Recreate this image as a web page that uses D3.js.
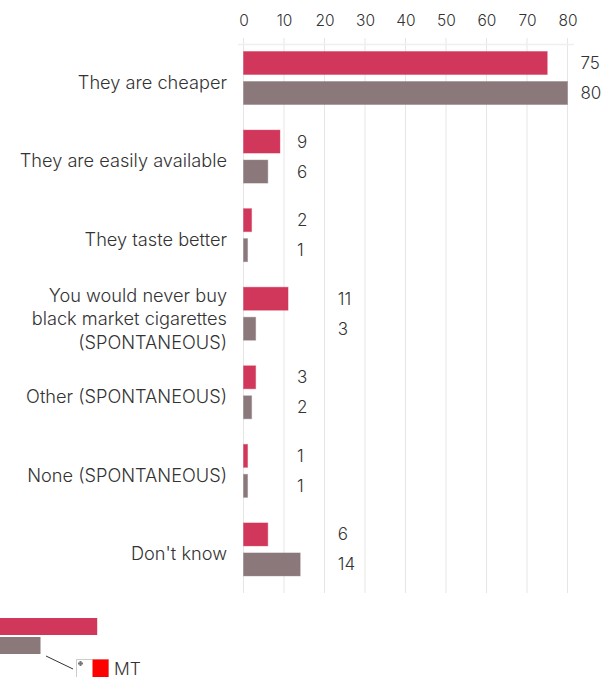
<!DOCTYPE html>
<html>
<head>
<meta charset="utf-8">
<script src="https://cdnjs.cloudflare.com/ajax/libs/d3/7.8.5/d3.min.js"></script>
<style>
  html, body { margin: 0; padding: 0; background: #fff; }
  svg { display: block; }
  text { font-family: Inter, sans-serif; font-weight: 300; fill: #333; }
</style>
</head>
<body>
<svg id="chart" width="601" height="677"></svg>
<script>
// Reasons for buying cheaper cigarettes, two survey waves per answer.
const categories = [
  ["They are cheaper"],
  ["They are easily available"],
  ["They taste better"],
  ["You would never buy", "black market cigarettes", "(SPONTANEOUS)"],
  ["Other (SPONTANEOUS)"],
  ["None (SPONTANEOUS)"],
  ["Don't know"]
];
const seriesCurrent = [75, 9, 2, 11, 3, 1, 6];
const seriesPrevious = [80, 6, 1, 3, 2, 1, 14];
const tickValues = [0, 10, 20, 30, 40, 50, 60, 70, 80];
const keyValues = [24, 10];
const keyLabel = "MT";

const colors = { current: "#d1365b", previous: "#8a787b", grid: "#e6e6e6" };

const svg = d3.select("#chart");
const plotTop = 44, plotBottom = 594;

const x = d3.scaleLinear().domain([0, 80]).range([243.5, 567.5]);
const y = d3.scaleBand().domain(d3.range(categories.length)).range([plotTop, plotBottom]);
const barHeight = 23, barInset = 7.5, barGap = 30;

// Value labels sit in three columns, placed along the value scale.
const labelColumn = [83.2, 13.2, 13.2, 23.3, 13.2, 13.2, 23.3];

// Gridlines and top axis
const axis = d3.axisTop(x).tickValues(tickValues).tickSize(0).tickPadding(12);
const axisG = svg.append("g").attr("transform", `translate(0,${plotTop - 12})`).call(axis);
axisG.select(".domain").remove();
axisG.selectAll("text").style("font-size", "15.5px").style("font-family", "Inter, sans-serif").attr("fill", "#333").attr("dy", "0.32em").attr("y", -11);

svg.append("g").selectAll("line").data(tickValues).join("line")
  .attr("x1", d => x(d)).attr("x2", d => x(d))
  .attr("y1", 38).attr("y2", 593)
  .attr("stroke", colors.grid).attr("stroke-width", 1);
svg.append("line")
  .attr("x1", 238).attr("x2", 574).attr("y1", 44.5).attr("y2", 44.5)
  .attr("stroke", "#efefef").attr("stroke-width", 1.5);

// Bars
function drawBars(values, color, offset) {
  svg.append("g").selectAll("rect").data(values).join("rect")
    .attr("x", x(0))
    .attr("y", (d, i) => y(i) + offset)
    .attr("width", d => x(d) - x(0))
    .attr("height", barHeight)
    .attr("fill", color)
    .attr("stroke", color).attr("stroke-opacity", 0.4).attr("stroke-width", 1);
}
drawBars(seriesCurrent, colors.current, barInset);
drawBars(seriesPrevious, colors.previous, barInset + barGap);

// Value labels
function drawLabels(values, offset) {
  svg.append("g").selectAll("text").data(values).join("text")
    .attr("x", (d, i) => x(labelColumn[i]))
    .attr("y", (d, i) => y(i) + offset + barHeight / 2)
    .attr("dy", "0.35em")
    .style("font-size", "17px")
    .text(d => d);
}
drawLabels(seriesCurrent, barInset);
drawLabels(seriesPrevious, barInset + barGap);

// Category labels, right-aligned against the plot
const catG = svg.append("g").selectAll("text").data(categories).join("text")
  .attr("text-anchor", "end")
  .style("font-size", "18.2px");
catG.each(function (lines, i) {
  const lineHeight = 23.5;
  const nudge = lines.length > 1 ? 1 : 0;
  const centre = y(i) + y.bandwidth() / 2 - 1 + nudge;
  d3.select(this).selectAll("tspan").data(lines).join("tspan")
    .attr("x", 227)
    .attr("y", (d, j) => centre + (j - (lines.length - 1) / 2) * lineHeight)
    .attr("dy", "0.35em")
    .text(d => d);
});

// Key: two bars, a leader line and the country flag
const keyBarTop = [618, 637];
const keyColors = [colors.current, colors.previous];
svg.append("g").selectAll("rect").data(keyValues).join("rect")
  .attr("x", 0).attr("y", (d, i) => keyBarTop[i])
  .attr("width", d => x(d) - x(0)).attr("height", 17)
  .attr("fill", (d, i) => keyColors[i]);
svg.append("line").attr("x1", 46).attr("y1", 656).attr("x2", 73).attr("y2", 669)
  .attr("stroke", "#333").attr("stroke-width", 1);

const flag = svg.append("g").attr("transform", "translate(76.5,659.5)");
flag.append("rect").attr("width", 32).attr("height", 18).attr("fill", "#fff").attr("stroke", "#ccc");
flag.append("rect").attr("x", 16).attr("width", 16).attr("height", 18).attr("fill", "#ff0000");
flag.append("path").attr("d", "M3 1.5h2v1.5h1.5v2H5v1.5H3V5H1.5V3H3z").attr("fill", "#777");

svg.append("text").attr("x", 114).attr("y", 669).attr("dy", "0.35em")
  .style("font-size", "17.5px").text(keyLabel);
</script>
</body>
</html>
